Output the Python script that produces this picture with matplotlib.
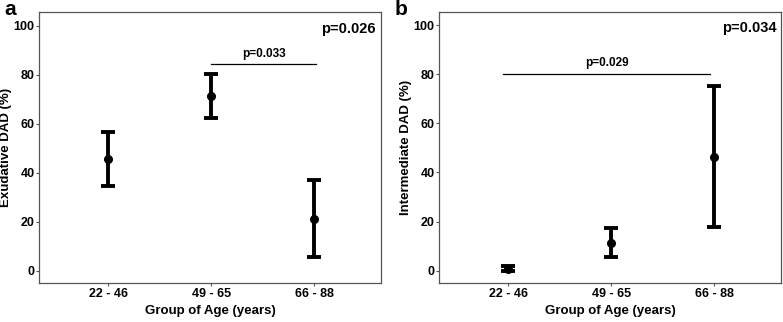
import numpy as np
import matplotlib
matplotlib.use("Agg")
from matplotlib import pyplot as plt

plt.rcParams['font.family'] = ['Liberation Sans', 'DejaVu Sans']
plt.rcParams['font.weight'] = 'bold'

groups = ["22 - 46", "49 - 65", "66 - 88"]

# panel a: exudative DAD
exu_mean = [45.5, 71.2, 21.2]
exu_low = [34.4, 62.3, 5.5]
exu_high = [56.5, 80.3, 37.0]

# panel b: intermediate DAD
int_mean = [0.8, 11.5, 46.5]
int_low = [0.0, 5.6, 18.0]
int_high = [1.8, 17.3, 75.3]

fig = plt.figure(figsize=(7.83, 3.22), dpi=100)
ax_a = fig.add_axes([0.0502, 0.121, 0.4364, 0.841])
ax_b = fig.add_axes([0.561, 0.121, 0.437, 0.843])

def draw(ax, mean, low, high, ylabel, p_all, p_pair, pair, pair_y):
	x = np.arange(1, len(groups) + 1)
	m = np.array(mean)
	err = [m - np.array(low), np.array(high) - m]
	ax.errorbar(x, m, yerr=err, fmt='o', color='black', ms=5.5,
		elinewidth=2.8, capsize=5, capthick=2.8)
	ax.set_xlim(0.33, 3.65)
	ax.set_ylim(-5, 105.5)
	ax.set_xticks(x)
	ax.set_xticklabels(groups)
	ax.set_yticks([0, 20, 40, 60, 80, 100])
	ax.tick_params(labelsize=9, labelcolor='black', color='#555555', length=2, width=0.8, pad=1.5)
	for t in ax.get_xticklabels() + ax.get_yticklabels():
		t.set_fontweight('bold')
	for s in ax.spines.values():
		s.set_color('#555555')
		s.set_linewidth(0.9)
	ax.set_xlabel("Group of Age (years)", fontsize=9.5, fontweight='bold', labelpad=4)
	ax.set_ylabel(ylabel, fontsize=9.5, fontweight='bold', labelpad=1)
	ax.plot(pair, [pair_y, pair_y], color='black', lw=0.9)
	ax.text(np.mean(pair), pair_y + 2, p_pair, ha='center', va='bottom', fontsize=8.5, fontweight='bold')
	ax.text(0.985, 0.965, p_all, transform=ax.transAxes, ha='right', va='top', fontsize=10.5, fontweight='bold')

draw(ax_a, exu_mean, exu_low, exu_high, "Exudative DAD (%)", "p=0.026", "p=0.033", [2, 3.02], 84.2)
draw(ax_b, int_mean, int_low, int_high, "Intermediate DAD (%)", "p=0.034", "p=0.029", [0.95, 2.96], 80.0)

fig.text(0.005, 1.0, "a", ha='left', va='top', fontsize=15, fontweight='bold')
fig.text(0.504, 1.0, "b", ha='left', va='top', fontsize=15, fontweight='bold')

fig.savefig("out.png", dpi=100)
